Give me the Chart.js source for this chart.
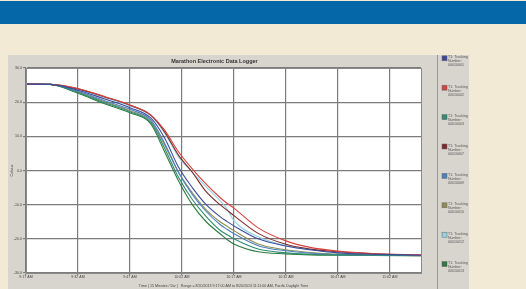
<!DOCTYPE html>
<html>
<head>
<meta charset="utf-8">
<script src="https://cdn.jsdelivr.net/npm/chart.js@4"></script>
<style>
  body { margin: 0; width: 526px; height: 289px; background: #f3ead6; position: relative; overflow: hidden; }
  #bar { position: absolute; left: 0; top: 1px; width: 526px; height: 23px; background: #0566a8; }
  #panel { position: absolute; left: 8px; top: 55px; width: 461px; height: 234px; background: #d8d5ce; }
  canvas { display: block; }
</style>
</head>
<body>
<div id="bar"></div>
<div id="panel"><canvas id="myChart" width="461" height="234"></canvas></div>
<script>
// minutes after 9:17 AM
const times = [0, 7, 15, 22.5, 30, 36, 40, 44, 48, 52, 56, 58, 60, 67, 75, 82, 90, 100, 114];

const xTickMinutes = [0, 15, 30, 45, 60, 75, 90, 105];
const xTickLabels = ["9:17 AM", "9:32 AM", "9:47 AM", "10:02 AM", "10:17 AM", "10:32 AM", "10:47 AM", "11:02 AM"];
const yTicks = [-30, -20, -10, 0, 10, 20, 30];

const names = ["00010001", "00010002", "00010003", "00010007", "00010009", "00010010", "00010012", "00010013"];
const colors = ["#3c4a9e", "#d6433d", "#2f8c72", "#7c2a2c", "#4a80c2", "#8e8c52", "#92d2e4", "#2e7a3e"];

const blue1 = [25.3, 25.2, 23.5, 21.0, 18.4, 15.4, 9.5, 1.0, -5, -10, -13.5, -14.9, -16.2, -20, -22.1, -23.2, -24.1, -24.5, -24.8];
const red = [25.3, 25.2, 24.0, 21.7, 19.2, 16.3, 11.8, 5.5, 0.5, -4, -7.9, -9.6, -11, -16.8, -20.6, -22.5, -23.6, -24.3, -24.7];
const teal = [25.3, 25.2, 22.8, 19.9, 17.2, 14.0, 6.5, -2, -8.5, -13.5, -17.5, -18.8, -20, -23, -24.1, -24.5, -24.7, -24.8, -24.9];
const darkRed = [25.3, 25.2, 23.9, 21.6, 19.1, 16.2, 11.3, 4.5, -0.5, -6.2, -10, -11.6, -13.2, -18.4, -21.6, -23, -23.8, -24.4, -24.8];
const blue2 = [25.3, 25.2, 23.2, 20.5, 17.9, 14.8, 8.0, -0.5, -7, -12, -15.8, -17.2, -18.5, -22, -23.5, -24.2, -24.6, -24.8, -24.9];
const olive = [25.3, 25.2, 23.0, 20.2, 17.5, 14.4, 7.5, -0.5, -6.5, -11.5, -15, -16.3, -17.6, -21.5, -23.2, -24, -24.5, -24.7, -24.9];
const cyan = [25.3, 25.2, 23.8, 21.4, 18.9, 16.0, 11.0, 4.0, -0.5, -4.8, -8.8, -11.2, -14.7, -19.4, -22, -23.2, -24.1, -24.5, -24.8];
const green = [25.3, 25.2, 22.6, 19.6, 16.9, 13.6, 5.5, -3, -10, -15, -18.5, -20.2, -21.5, -23.8, -24.4, -24.7, -24.8, -24.9, -25];

const allSeries = [blue1, red, teal, darkRed, blue2, olive, cyan, green];

const FONT = "'Liberation Sans', Arial, sans-serif";

// white plot area + frame
const plotBg = {
  id: "plotBg",
  beforeDraw(chart) {
    const { ctx, chartArea: a } = chart;
    ctx.save();
    ctx.fillStyle = "#ffffff";
    ctx.fillRect(a.left, a.top, a.right - a.left, a.bottom - a.top);
    ctx.restore();
  },
  afterDraw(chart) {
    const { ctx, chartArea: a } = chart;
    ctx.save();
    ctx.strokeStyle = "#8a8a8a";
    ctx.lineWidth = 1;
    ctx.strokeRect(a.left + 0.5, a.top + 0.5, a.right - a.left, a.bottom - a.top);
    ctx.restore();
  },
};

// legend on the right, 3 lines each
const sideLegend = {
  id: "sideLegend",
  afterDraw(chart) {
    const ctx = chart.ctx;
    ctx.save();
    ctx.strokeStyle = "#9c9890";
    ctx.lineWidth = 1;
    ctx.beginPath();
    ctx.moveTo(429.5, 0);
    ctx.lineTo(429.5, chart.height);
    ctx.stroke();
    ctx.font = "3.6px " + FONT;
    ctx.textBaseline = "middle";
    chart.data.datasets.forEach((ds, i) => {
      const y = 0.8 + i * 29.4;
      ctx.fillStyle = ds.borderColor;
      ctx.fillRect(434, y, 5, 5);
      ctx.strokeStyle = "#666";
      ctx.lineWidth = 0.5;
      ctx.strokeRect(434, y, 5, 5);
      ctx.fillStyle = "#555";
      ctx.fillText("T1: Tracking", 440, y + 1.5);
      ctx.fillText("Number:", 440, y + 5.5);
      ctx.fillText(names[i], 440, y + 9.5);
    });
    ctx.restore();
  },
};

const ctx = document.getElementById("myChart").getContext("2d");
const myChart = new Chart(ctx, {
  type: "line",
  data: {
    datasets: allSeries.map((vals, i) => ({
      label: "T1: Tracking Number: " + names[i],
      data: times.map((t, j) => ({ x: t, y: vals[j] })),
      borderColor: colors[i],
      borderWidth: 1.1,
      pointRadius: 0,
      fill: false,
      cubicInterpolationMode: "monotone",
    })),
  },
  options: {
    responsive: false,
    animation: false,
    layout: { padding: { left: 0, right: 48, top: 0, bottom: 0 } },
    scales: {
      x: {
        type: "linear",
        min: 0,
        max: 114,
        afterBuildTicks: (scale) => {
          scale.ticks = xTickMinutes.map((v) => ({ value: v }));
        },
        afterFit: (scale) => {
          scale.height = 16;
        },
        grid: { color: "#7c7c7c", lineWidth: 1.2, tickLength: 2 },
        border: { color: "#8a8a8a" },
        ticks: {
          padding: 0,
          maxRotation: 0,
          autoSkip: false,
          color: "#444",
          font: { size: 3.6, family: FONT },
          callback: (v) => xTickLabels[xTickMinutes.indexOf(v)],
        },
        title: {
          display: true,
          text: "Time ( 15 Minutes / Div )   Range = 8/20/2013 9:17:00 AM to 8/20/2013 11:11:00 AM, Pacific Daylight Time",
          color: "#444",
          font: { size: 3.6, family: FONT },
          padding: { top: 0, bottom: 1 },
        },
      },
      y: {
        min: -30,
        max: 30,
        afterBuildTicks: (scale) => {
          scale.ticks = yTicks.map((v) => ({ value: v }));
        },
        afterFit: (scale) => {
          scale.width = 18;
        },
        grid: { color: "#7c7c7c", lineWidth: 1.2, tickLength: 3 },
        border: { color: "#8a8a8a" },
        ticks: {
          padding: 1,
          color: "#444",
          font: { size: 3.6, family: FONT },
          callback: (v) => v.toFixed(1),
        },
        title: {
          display: true,
          text: "Celsius",
          color: "#444",
          font: { size: 3.6, family: FONT },
          padding: { top: 2, bottom: 0 },
        },
      },
    },
    plugins: {
      legend: { display: false },
      tooltip: { enabled: false },
      title: {
        display: true,
        text: "Marathon Electronic Data Logger",
        color: "#333",
        font: { size: 5.5, weight: "bold", family: FONT },
        padding: { top: 3.4, bottom: 3 },
      },
    },
  },
  plugins: [plotBg, sideLegend],
});
</script>
</body>
</html>
